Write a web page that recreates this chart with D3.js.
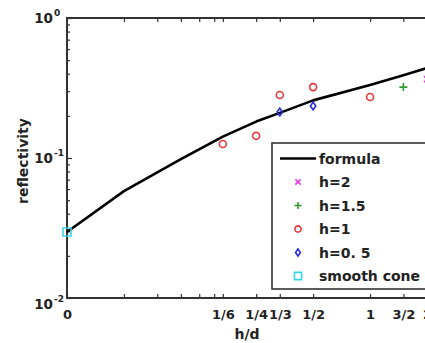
<!DOCTYPE html>
<html lang="en">
<head>
  <meta charset="UTF-8" />
  <title>Reflectivity vs h/d</title>
  <script src="https://d3js.org/d3.v7.min.js"></script>
  <style>
    body { margin: 0; background: #fff; }
    text { font-family: "DejaVu Sans", sans-serif; font-weight: bold; fill: #222; }
    .tick line { stroke: #333; stroke-width: 1.2px; }
  </style>
</head>
<body>
<script>
  // h/d positions (0 on the axis is drawn at 1/40)
  const xTicks = [0.025, 0.05, 0.075, 0.1, 0.125, 0.15, 1/6, 1/4, 1/3, 1/2, 1, 3/2, 2];
  const xTickLabels = ["0", "", "", "", "", "", "1/6", "1/4", "1/3", "1/2", "1", "3/2", "2"];

  // formula curve
  const formulaX = [0.025, 0.05, 0.1, 1/6, 1/4, 1/3, 1/2, 1, 3/2, 2];
  const formulaY = [0.0296, 0.058, 0.098, 0.142, 0.182, 0.21, 0.258, 0.332, 0.39, 0.44];

  // measured points
  const h2X = [2],            h2Y = [0.366];
  const h15X = [3/2],         h15Y = [0.321];
  const h1X = [1/6, 1/4, 1/3, 1/2, 1], h1Y = [0.126, 0.144, 0.282, 0.321, 0.273];
  const h05X = [1/3, 1/2],    h05Y = [0.213, 0.235];
  const coneX = [0.025],      coneY = [0.0296];

  const yMajor = [0.01, 0.1, 1];
  const yMajorExp = ["-2", "-1", "0"];

  const W = 425, H = 343;
  const plot = { left: 67, top: 18, right: 427, bottom: 298 };

  const svg = d3.select("body").append("svg")
    .attr("width", W).attr("height", H);

  const x = d3.scaleLog().domain([0.025, 2]).range([plot.left, plot.right]);
  const y = d3.scaleLog().domain([0.01, 1]).range([plot.bottom, plot.top]);

  // minor y ticks
  const yMinor = [];
  [0.01, 0.1].forEach(d => { for (let k = 2; k <= 9; k++) yMinor.push(d * k); });

  // bottom axis (ticks inward)
  svg.append("g")
    .attr("transform", `translate(0,${plot.bottom})`)
    .call(d3.axisBottom(x).tickValues(xTicks).tickSize(-4).tickPadding(12)
      .tickFormat((d, i) => xTickLabels[i]))
    .call(g => g.select(".domain").remove())
    .call(g => g.selectAll("text").style("font-size", "13px").attr("fill", "#222"));

  // top axis (ticks only)
  svg.append("g")
    .attr("transform", `translate(0,${plot.top})`)
    .call(d3.axisTop(x).tickValues(xTicks).tickSize(-4).tickFormat(""))
    .call(g => g.select(".domain").remove());

  // left axis: minor + major ticks
  svg.append("g")
    .attr("transform", `translate(${plot.left},0)`)
    .call(d3.axisLeft(y).tickValues(yMinor).tickSize(-3).tickFormat(""))
    .call(g => g.select(".domain").remove());
  svg.append("g")
    .attr("transform", `translate(${plot.left},0)`)
    .call(d3.axisLeft(y).tickValues(yMajor).tickSize(-5).tickFormat(""))
    .call(g => g.select(".domain").remove());

  // y labels 10^n
  yMajor.forEach((v, i) => {
    const yy = y(v) + (i === 0 ? 11 : 5);
    svg.append("text").attr("x", 53).attr("y", yy)
      .attr("text-anchor", "end").style("font-size", "13.5px").text("10");
    svg.append("text").attr("x", 54).attr("y", yy - 7)
      .style("font-size", "9px").text(yMajorExp[i]);
  });

  // frame
  svg.append("path")
    .attr("d", `M${plot.right},${plot.top}H${plot.left}V${plot.bottom}H${plot.right}`)
    .attr("fill", "none").attr("stroke", "#333").attr("stroke-width", 2);

  // axis titles
  svg.append("text").attr("x", 247).attr("y", 339)
    .attr("text-anchor", "middle").style("font-size", "14px").text("h/d");
  svg.append("text").attr("transform", "translate(28,161) rotate(-90)")
    .attr("text-anchor", "middle").style("font-size", "14px").text("reflectivity");

  // formula line
  const lineGen = d3.line().x(d => x(d[0])).y(d => y(d[1]));
  svg.append("path")
    .datum(d3.zip(formulaX, formulaY))
    .attr("d", lineGen)
    .attr("fill", "none").attr("stroke", "#000").attr("stroke-width", 2.6)
    .attr("stroke-linejoin", "round");

  // marker shapes
  const plusT = { draw(c, s) { const r = Math.sqrt(s) / 2; c.moveTo(-r, 0); c.lineTo(r, 0); c.moveTo(0, -r); c.lineTo(0, r); } };
  const timesT = { draw(c, s) { const r = Math.sqrt(s) / 2; c.moveTo(-r, -r); c.lineTo(r, r); c.moveTo(-r, r); c.lineTo(r, -r); } };
  const circT = { draw(c, s) { const r = Math.sqrt(s) / 2; c.moveTo(r, 0); c.arc(0, 0, r, 0, 2 * Math.PI); } };
  const diamT = { draw(c, s) { const r = Math.sqrt(s) / 2; c.moveTo(0, -r * 1.3); c.lineTo(r * 0.9, 0); c.lineTo(0, r * 1.3); c.lineTo(-r * 0.9, 0); c.closePath(); } };
  const sqT = { draw(c, s) { const r = Math.sqrt(s) / 2; c.rect(-r, -r, 2 * r, 2 * r); } };

  const series = [
    { name: "h=2",         xs: h2X,   ys: h2Y,   type: timesT, size: 36, color: "#e23be2" },
    { name: "h=1.5",       xs: h15X,  ys: h15Y,  type: plusT,  size: 64, color: "#2f9a2f" },
    { name: "h=1",         xs: h1X,   ys: h1Y,   type: circT,  size: 49, color: "#e8383c" },
    { name: "h=0. 5",      xs: h05X,  ys: h05Y,  type: diamT,  size: 36, color: "#2a2ad8" },
    { name: "smooth cone", xs: coneX, ys: coneY, type: sqT,    size: 64, color: "#38d4e4" }
  ];

  series.forEach(s => {
    svg.append("g").selectAll("path")
      .data(d3.zip(s.xs, s.ys))
      .join("path")
      .attr("transform", d => `translate(${x(d[0])},${y(d[1])})`)
      .attr("d", d3.symbol().type(s.type).size(s.size))
      .attr("fill", "none").attr("stroke", s.color).attr("stroke-width", 1.6);
  });

  // legend
  const lg = svg.append("g");
  lg.append("rect").attr("x", 272).attr("y", 143).attr("width", 170).attr("height", 146)
    .attr("fill", "#fff").attr("stroke", "#333").attr("stroke-width", 1.6);
  const rowY = i => 158.5 + i * 23.5;
  lg.append("line").attr("x1", 280).attr("x2", 316).attr("y1", rowY(0)).attr("y2", rowY(0))
    .attr("stroke", "#000").attr("stroke-width", 2.6);
  lg.append("text").attr("x", 319).attr("y", rowY(0) + 5).style("font-size", "14px").text("formula");
  series.forEach((s, i) => {
    lg.append("path")
      .attr("transform", `translate(298,${rowY(i + 1)})`)
      .attr("d", d3.symbol().type(s.type).size(s.size * 0.8))
      .attr("fill", "none").attr("stroke", s.color).attr("stroke-width", 1.6);
    lg.append("text").attr("x", 319).attr("y", rowY(i + 1) + 5)
      .style("font-size", "14px").text(s.name);
  });
</script>
</body>
</html>
